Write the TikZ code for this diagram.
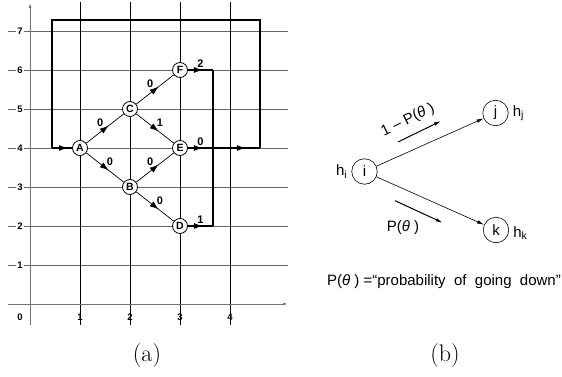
\documentclass[tikz,border=0pt]{standalone}
\usepackage{fontspec}
\newfontfamily\helv{Liberation Sans}
\usetikzlibrary{positioning, arrows.meta, decorations.markings}

\begin{document}
\begin{tikzpicture}[
        x=1pt, y=1pt,
        hline/.style={black!60, line width=0.9pt},
        vline/.style={black, line width=0.8pt},
        axis/.style={black!55, line width=1pt, -{Latex[length=5pt,width=3pt]}},
        tick/.style={font=\helv\bfseries\fontsize{9.5}{10}\selectfont, fill=white, inner sep=1.2pt},
        xtick/.style={font=\helv\bfseries\fontsize{9.5}{10}\selectfont, inner sep=0pt},
        state/.style={circle, draw, fill=white, line width=0.8pt, inner sep=0pt, minimum size=15pt, font=\helv\bfseries\fontsize{10.5}{11}\selectfont},
        blabel/.style={font=\helv\bfseries\fontsize{11}{12}\selectfont, inner sep=1.5pt},
        branch/.style={line width=0.7pt, postaction={decorate},
            decoration={markings, mark=at position #1 with {\arrow{Latex[length=9pt,width=6pt]}}}},
        branch/.default=0.6,
        loopline/.style={line width=1.4pt},
        bstate/.style={circle, draw, line width=0.6pt, inner sep=0pt, minimum size=25.5pt, font=\helv\fontsize{15}{17}\selectfont},
        bfont/.style={font=\helv\fontsize{15}{17}\selectfont, inner sep=1pt},
        bedge/.style={line width=0.6pt, -{Latex[length=7pt,width=3.5pt]}},
        hint/.style={line width=1pt, -{Latex[length=7pt,width=3.5pt]}},
        caption/.style={font=\fontsize{24}{28}\selectfont},
    ]
    \useasboundingbox (0,0) rectangle (562,376);

    % === (a) TRELLIS ON A GRID ===
    \begin{scope}[shift={(30pt,72pt)}, x=50pt, y=39pt]
        % grid
        \foreach \k in {1,...,7} {
            \draw[hline] (-0.44,\k) -- (5.16,\k);
            \node[tick] (ty\k) at (-0.2,\k) {\k};
        }
        \foreach \k in {1,...,4} {
            \draw[vline] (\k,-0.54) -- (\k,7.74);
            \node[xtick] (tx\k) at (\k,-0.33) {\k};
        }
        \node[xtick] (tx0) at (-0.2,-0.33) {0};
        \draw[axis] (-0.44,0) -- (5.16,0);
        \draw[axis] (0,-0.54) -- (0,7.72);

        % states
        \node[state] (A) at (1,4) {A};
        \node[state] (B) at (2,3) {B};
        \node[state] (C) at (2,5) {C};
        \node[state] (D) at (3,2) {D};
        \node[state] (E) at (3,4) {E};
        \node[state] (F) at (3,6) {F};

        % branches
        \draw[branch] (A) -- node[blabel, above left] {0} (C);
        \draw[branch] (A) -- node[blabel, above right] {0} (B);
        \draw[branch] (C) -- node[blabel, above left] {0} (F);
        \draw[branch] (C) -- node[blabel, above right] {1} (E);
        \draw[branch] (B) -- node[blabel, above left] {0} (E);
        \draw[branch] (B) -- node[blabel, above right] {0} (D);

        % feedback loop
        \coordinate (fr) at (3.66,6);
        \coordinate (jn) at (3.66,4);
        \coordinate (dr) at (3.66,2);
        \coordinate (lr) at (4.6,4);
        \coordinate (ur) at (4.6,7.28);
        \coordinate (ul) at (0.44,7.28);
        \coordinate (ll) at (0.44,4);

        \draw[branch, line width=1.1pt] (F) -- node[blabel, above] {2} (fr);
        \draw[branch, line width=1.1pt] (D) -- node[blabel, above] {1} (dr);
        \draw[line width=1.1pt] (fr) -- (dr);
        \draw[branch, loopline] (E) -- node[blabel, above] {0} (jn);
        \draw[branch=0.7, loopline] (jn) -- (lr);
        \draw[loopline] (lr) -- (ur) -- (ul) -- (ll);
        \draw[branch=0.8, loopline] (ll) -- (A);
        \fill (jn) circle (1.6pt);
    \end{scope}

    % === (b) BRANCH PROBABILITIES ===
    \node[bstate] (i) at (364.5,204.5) {i};
    \node[bstate] (j) at (495.5,263) {j};
    \node[bstate] (k) at (496,146) {k};

    \node[bfont, left=3pt of i] (hi) {h\textsubscript{i}};
    \node[bfont, right=3pt of j] (hj) {h\textsubscript{j}};
    \node[bfont, right=3pt of k, yshift=-3pt] (hk) {h\textsubscript{k}};

    \draw[bedge] (i) -- (j);
    \draw[bedge] (i) -- (k);

    \coordinate (up0) at (398,234);
    \coordinate (up1) at (441,255);
    \coordinate (dn0) at (395,175.3);
    \coordinate (dn1) at (442.7,153.3);
    \draw[hint] (up0) -- (up1);
    \draw[hint] (dn0) -- (dn1);
    \node[bfont, rotate=26] (pup) at (408,256) {1 – P(\textit{θ} )};
    \node[bfont] (pdn) at (403,148) {P(\textit{θ} )};

    \node[bfont] (def) at (444,94.3) {P(\textit{θ} ) =“probability\ \ of\ \ going\ \ down”};

    % Captions
    \node[caption] (capa) at (147,20) {(a)};
    \node[caption] (capb) at (445,20) {(b)};

\end{tikzpicture}
\end{document}
